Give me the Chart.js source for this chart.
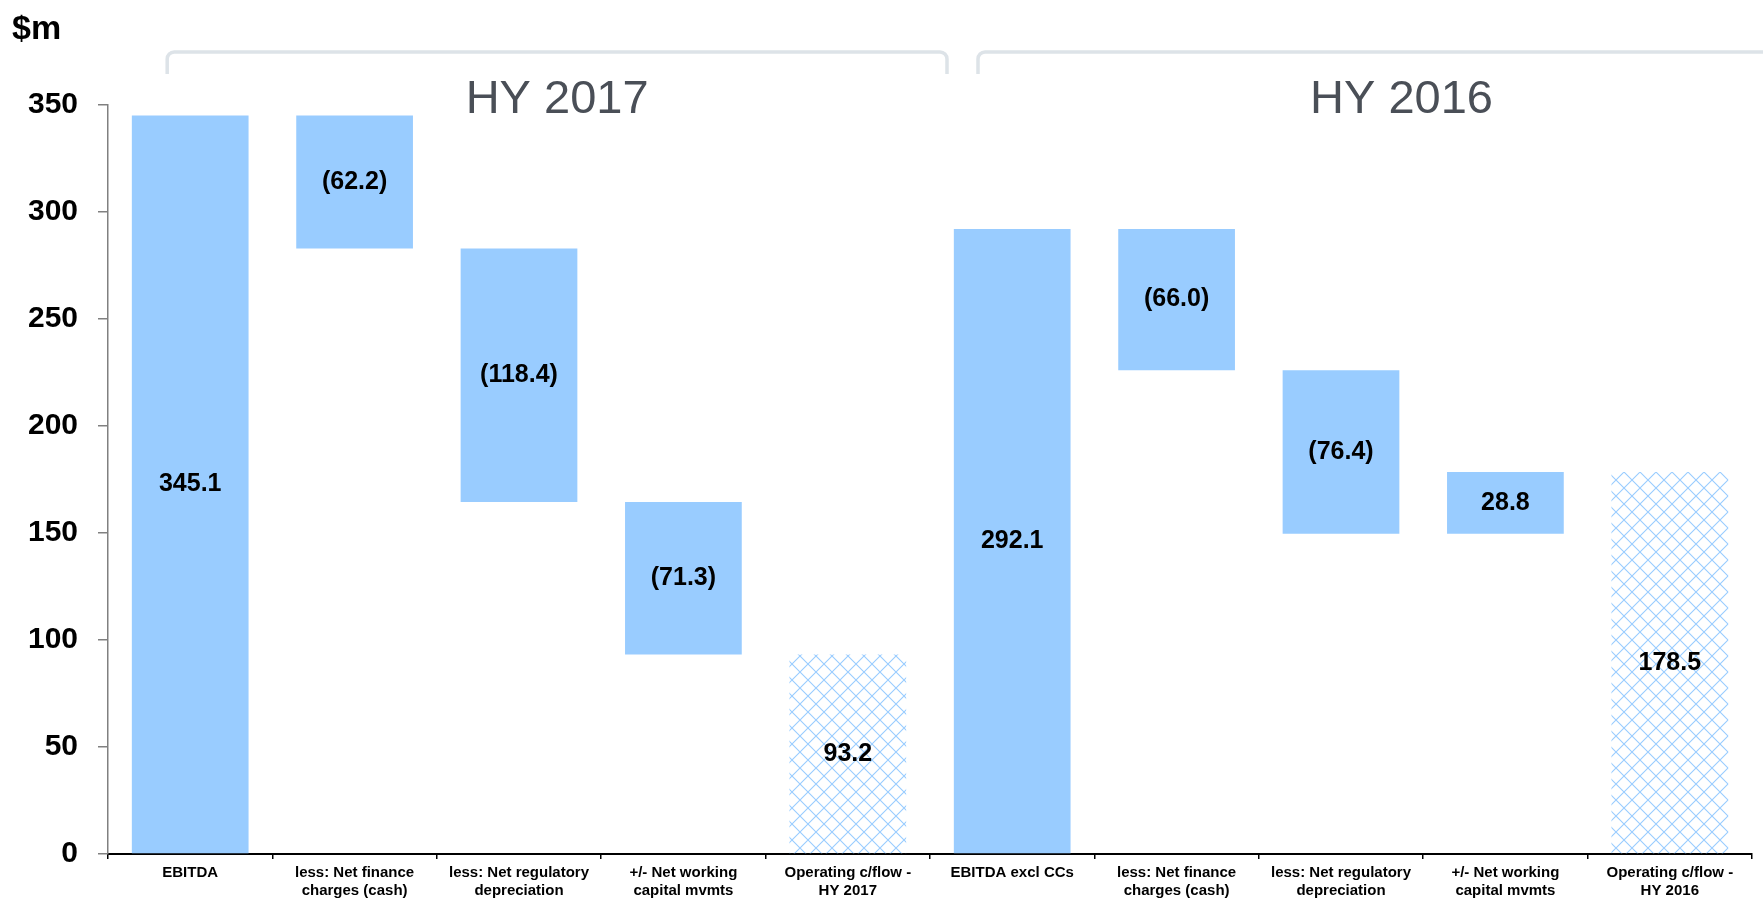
<!DOCTYPE html>
<html>
<head>
<meta charset="utf-8">
<script src="https://cdn.jsdelivr.net/npm/chart.js@4/dist/chart.umd.min.js"></script>
<style>
  html, body { margin: 0; padding: 0; background: #ffffff; }
  #wrap { width: 1763px; height: 900px; position: relative; }
</style>
</head>
<body>
<div id="wrap"><canvas id="c" width="1763" height="900"></canvas></div>
<script>
// ---- data ----
const categories = [
  ["EBITDA"],
  ["less: Net finance", "charges (cash)"],
  ["less: Net regulatory", "depreciation"],
  ["+/- Net working", "capital mvmts"],
  ["Operating c/flow -", "HY 2017"],
  ["EBITDA excl CCs"],
  ["less: Net finance", "charges (cash)"],
  ["less: Net regulatory", "depreciation"],
  ["+/- Net working", "capital mvmts"],
  ["Operating c/flow -", "HY 2016"]
];
const barLow  = [0, 282.9, 164.5, 93.2, 0, 0, 226.1, 149.7, 149.7, 0];
const barHigh = [345.1, 345.1, 282.9, 164.5, 93.2, 292.1, 292.1, 226.1, 178.5, 178.5];
const valueLabels = ["345.1", "(62.2)", "(118.4)", "(71.3)", "93.2", "292.1", "(66.0)", "(76.4)", "28.8", "178.5"];
const isTotal = [false, false, false, false, true, false, false, false, false, true];
const yTicks = [0, 50, 100, 150, 200, 250, 300, 350];
const groupTitles = ["HY 2017", "HY 2016"];
const unitLabel = "$m";

// ---- styles ----
const FONT = "'Liberation Sans', Arial, sans-serif";
const BLUE = "#99ccff";

function makeHatch() {
  const s = 16;
  const p = document.createElement("canvas");
  p.width = s; p.height = s;
  const g = p.getContext("2d");
  g.strokeStyle = BLUE;
  g.lineWidth = 1.1;
  g.beginPath();
  g.moveTo(0, 0); g.lineTo(s, s);
  g.moveTo(s, 0); g.lineTo(0, s);
  g.stroke();
  return g.createPattern(p, "repeat");
}
const ctx = document.getElementById("c").getContext("2d");
const hatch = makeHatch();

const barData = barLow.map((lo, i) => [lo, barHigh[i]]);
const colors = isTotal.map(t => t ? hatch : BLUE);

const labelPlugin = {
  id: "valueLabels",
  afterDatasetsDraw(chart) {
    const c = chart.ctx;
    const meta = chart.getDatasetMeta(0);
    c.save();
    c.font = "bold 25px " + FONT;
    c.fillStyle = "#000000";
    c.textAlign = "center";
    c.textBaseline = "middle";
    meta.data.forEach((el, i) => {
      const yc = (el.y + el.base) / 2;
      c.fillText(valueLabels[i], el.x, yc);
    });
    c.restore();
  }
};

const decoPlugin = {
  id: "deco",
  afterDraw(chart) {
    const c = chart.ctx;
    const xs = chart.scales.x;
    const step = xs.getPixelForValue(1) - xs.getPixelForValue(0);
    c.save();
    // unit label
    c.font = "bold 34px " + FONT;
    c.fillStyle = "#000000";
    c.textAlign = "left";
    c.textBaseline = "alphabetic";
    c.fillText(unitLabel, 12, 39);

    // brackets
    const topY = 52, botY = 74, r = 7;
    const groups = [
      [xs.getPixelForValue(0) - 23, xs.getPixelForValue(4) + step / 2 + 17],
      [xs.getPixelForValue(5) - step / 2 + 48, xs.getPixelForValue(9) + step / 2 + 73]
    ];
    c.strokeStyle = "#dde3e8";
    c.lineWidth = 3.5;
    c.lineJoin = "round";
    groups.forEach(([x0, x1]) => {
      c.beginPath();
      c.moveTo(x0, botY);
      c.arcTo(x0, topY, x0 + r, topY, r);
      c.arcTo(x1, topY, x1, topY + r, r);
      c.lineTo(x1, botY);
      c.stroke();
    });

    // titles
    c.font = "47px " + FONT;
    c.fillStyle = "#4a4f57";
    c.textAlign = "center";
    groups.forEach(([x0, x1], i) => {
      c.fillText(groupTitles[i], (x0 + x1) / 2, 113);
    });
    c.restore();
  }
};

new Chart(ctx, {
  type: "bar",
  data: {
    labels: categories,
    datasets: [{
      data: barData,
      backgroundColor: colors,
      borderWidth: 0,
      barPercentage: 0.71,
      categoryPercentage: 1.0
    }]
  },
  options: {
    responsive: false,
    animation: false,
    layout: { padding: { top: 105, right: 11, left: 0, bottom: 0 } },
    plugins: {
      legend: { display: false },
      tooltip: { enabled: false }
    },
    scales: {
      x: {
        grid: { display: true, drawOnChartArea: false, tickLength: 5, color: "#000000", lineWidth: 1.5, offset: true },
        border: { display: true, color: "#000000", width: 2 },
        ticks: {
          color: "#000000",
          font: { family: FONT, size: 15, weight: "bold", lineHeight: 1.25 },
          maxRotation: 0, minRotation: 0, autoSkip: false, padding: 4
        },
        afterFit(s) { s.height = 46; }
      },
      y: {
        min: 0, max: 350,
        afterBuildTicks(s) { s.ticks = yTicks.map(v => ({ value: v })); },
        grid: { display: true, drawOnChartArea: false, tickLength: 10, color: "#808080", lineWidth: 1.5 },
        border: { display: true, color: "#808080", width: 1.5 },
        ticks: {
          color: "#000000",
          font: { family: FONT, size: 30, weight: "bold" },
          padding: 20
        },
        afterFit(s) { s.width = 108; }
      }
    }
  },
  plugins: [labelPlugin, decoPlugin]
});
</script>
</body>
</html>
